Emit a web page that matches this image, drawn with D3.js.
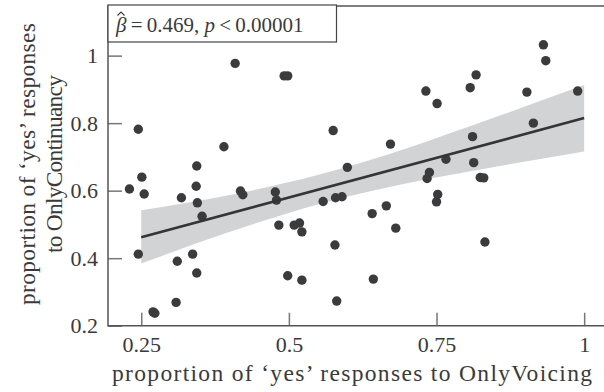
<!DOCTYPE html>
<html lang="en">
<head>
  <meta charset="UTF-8">
  <title>OnlyVoicing vs OnlyContinuancy</title>
  <script src="https://cdn.jsdelivr.net/npm/d3@7"></script>
  <style>
    * { margin: 0; padding: 0; }
    body { background: #fff; }
    svg { display: block; }
    text { font-family: "Liberation Serif", "Times New Roman", serif; }
    .tick text { fill: #3a3a3a; font-size: 22px; }
    .tick line { stroke: #777; stroke-width: 1.5; }
  </style>
</head>
<body>
  <div id="chart"></div>
  <script>
  // proportion of 'yes' responses, one entry per item
  var voicing = [
    0.245, 0.409, 0.492, 0.498, 0.575, 0.390, 0.344, 0.599, 0.931, 0.935,
    0.817, 0.732, 0.807, 0.751, 0.903, 0.989, 0.914, 0.672, 0.811, 0.766,
    0.813, 0.738, 0.734, 0.824, 0.830, 0.752, 0.750, 0.665, 0.641, 0.681,
    0.832, 0.643, 0.251, 0.230, 0.255, 0.343, 0.318, 0.345, 0.353, 0.418,
    0.422, 0.477, 0.479, 0.558, 0.579, 0.590, 0.483, 0.509, 0.518, 0.522,
    0.578, 0.245, 0.311, 0.337, 0.344, 0.498, 0.522, 0.309, 0.581, 0.270,
    0.273
  ];
  var continuancy = [
    0.782, 0.977, 0.940, 0.940, 0.778, 0.730, 0.673, 0.669, 1.032, 0.985,
    0.943, 0.895, 0.905, 0.858, 0.892, 0.895, 0.800, 0.738, 0.760, 0.693,
    0.683, 0.654, 0.636, 0.639, 0.638, 0.589, 0.567, 0.555, 0.532, 0.489,
    0.448, 0.338, 0.640, 0.605, 0.590, 0.613, 0.579, 0.564, 0.524, 0.599,
    0.588, 0.596, 0.572, 0.568, 0.579, 0.582, 0.498, 0.498, 0.504, 0.478,
    0.439, 0.412, 0.391, 0.412, 0.356, 0.348, 0.335, 0.269, 0.273, 0.241,
    0.237
  ];

  // fitted line and its confidence band
  var fitX = [0.25, 1];
  var fitY = [0.462, 0.815];
  var bandX  = [0.25, 0.4, 0.55, 0.7, 0.85, 1];
  var bandLo = [0.384, 0.478, 0.560, 0.622, 0.671, 0.716];
  var bandHi = [0.542, 0.587, 0.647, 0.726, 0.818, 0.913];

  var xTicks = [0.25, 0.5, 0.75, 1];
  var yTicks = [0.2, 0.4, 0.6, 0.8, 1];

  var width = 604, height = 392;
  var mLeft = 108, mTop = 6, mBottom = 325.7;

  var svg = d3.select("#chart").append("svg")
      .attr("width", width)
      .attr("height", height);

  var x = d3.scaleLinear().domain([0.1937, 1.0336]).range([mLeft, width]);
  var y = d3.scaleLinear().domain([0.2, 1.147]).range([mBottom, mTop]);

  // confidence band
  var band = bandX.map(function (d, i) { return { x: d, lo: bandLo[i], hi: bandHi[i] }; });
  svg.append("path")
    .datum(band)
    .attr("fill", "#d2d3d5")
    .attr("d", d3.area()
      .curve(d3.curveMonotoneX)
      .x(function (d) { return x(d.x); })
      .y0(function (d) { return y(d.lo); })
      .y1(function (d) { return y(d.hi); }));

  // axes (ticks point inwards)
  svg.append("g")
    .attr("transform", "translate(" + mLeft + ",0)")
    .call(d3.axisLeft(y).tickValues(yTicks).tickSize(-14).tickPadding(10)
      .tickFormat(function (d) { return d; }))
    .call(function (g) { g.select(".domain").remove(); });

  svg.append("g")
    .attr("transform", "translate(0," + mBottom + ")")
    .call(d3.axisBottom(x).tickValues(xTicks).tickSize(-13).tickPadding(11)
      .tickFormat(function (d) { return d; }))
    .call(function (g) { g.select(".domain").remove(); });

  // points
  svg.append("g").selectAll("circle")
    .data(voicing)
    .enter()
    .append("circle")
      .attr("cx", function (d) { return x(d); })
      .attr("cy", function (d, i) { return y(continuancy[i]); })
      .attr("r", 4.7)
      .attr("fill", "#3b3b3d");

  // regression line
  svg.append("path")
    .datum(fitX.map(function (d, i) { return [d, fitY[i]]; }))
    .attr("fill", "none")
    .attr("stroke", "#353535")
    .attr("stroke-width", 2.6)
    .attr("d", d3.line()
      .x(function (d) { return x(d[0]); })
      .y(function (d) { return y(d[1]); }));

  // frame: left, top, bottom
  svg.append("path")
    .attr("fill", "none")
    .attr("stroke", "#555")
    .attr("stroke-width", 1.5)
    .attr("d", "M" + width + "," + mTop + "H" + mLeft + "V" + mBottom + "H" + width);

  // annotation box
  var note = svg.append("g");
  note.append("rect")
    .attr("x", mLeft).attr("y", mTop - 1)
    .attr("width", 228.5).attr("height", 37)
    .attr("fill", "#fff")
    .attr("stroke", "#444")
    .attr("stroke-width", 1.2);
  var nt = note.append("text")
    .attr("x", mLeft + 8).attr("y", mTop + 26)
    .attr("fill", "#3a3a3a")
    .style("font-size", "21px");
  nt.append("tspan").style("font-style", "italic").text("\u03B2");
  nt.append("tspan").text("\u2009=\u20090.469, ");
  nt.append("tspan").style("font-style", "italic").text("p");
  nt.append("tspan").text("\u2009<\u20090.00001");
  // hat over beta
  note.append("path")
    .attr("fill", "none")
    .attr("stroke", "#3a3a3a")
    .attr("stroke-width", 1.1)
    .attr("d", "M" + (mLeft + 9.5) + "," + (mTop + 9.5) + "l3.5,-3.5l3.5,3.5");

  // axis titles
  svg.append("text")
    .attr("x", 112)
    .attr("y", 381)
    .attr("fill", "#3a3a3a")
    .attr("textLength", 480)
    .attr("lengthAdjust", "spacing")
    .style("font-size", "23.5px")
    .text("proportion of \u2018yes\u2019 responses to OnlyVoicing");

  var yt = svg.append("text")
    .attr("transform", "translate(0,164) rotate(-90)")
    .attr("text-anchor", "middle")
    .attr("fill", "#3a3a3a")
    .style("font-size", "23.5px");
  yt.append("tspan").attr("x", 0).attr("y", 35)
    .attr("textLength", 282).attr("lengthAdjust", "spacing")
    .text("proportion of \u2018yes\u2019 responses");
  yt.append("tspan").attr("x", 0).attr("y", 62)
    .attr("textLength", 178).attr("lengthAdjust", "spacing")
    .text("to OnlyContinuancy");
  </script>
</body>
</html>
